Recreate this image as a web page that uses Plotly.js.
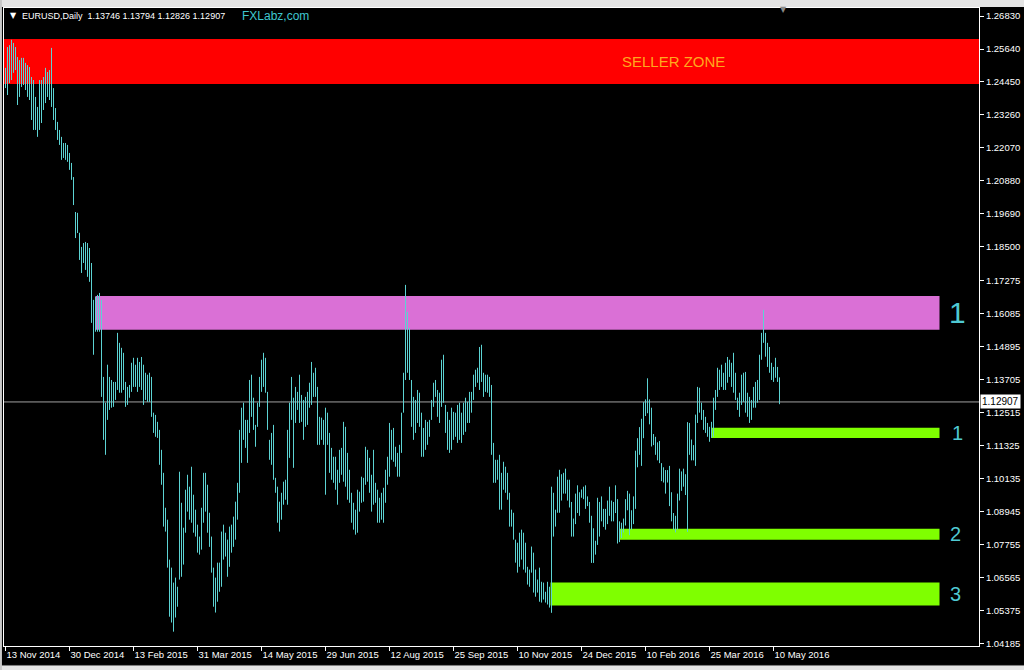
<!DOCTYPE html>
<html>
<head>
<meta charset="utf-8">
<script src="https://cdn.plot.ly/plotly-3.0.1.min.js"></script>
<style>html,body{margin:0;padding:0;background:#000;}#chart{width:1024px;height:670px;}</style>
</head>
<body>
<div id="chart"></div>
<script>
// ---- data (EURUSD daily, one entry per bar) ----
const barHigh = [
1.2496,1.2571,1.2578,1.2597,1.2586,1.2571,1.2535,1.2524,1.2532,1.2532,
1.2514,1.2506,1.2499,1.2463,1.2452,1.2391,1.2355,1.2452,1.2452,1.2463,
1.2496,1.2481,1.2488,1.2568,1.2423,1.2351,1.2301,1.2272,1.2247,1.2225,
1.2225,1.2218,1.2189,1.2153,1.2102,1.1976,1.1973,1.1901,1.1850,1.1864,
1.1868,1.1864,1.1846,1.1792,1.1659,1.1670,1.1677,1.1684,1.1659,1.1381,
1.1288,1.1425,1.1381,1.1370,1.1363,1.1363,1.1540,1.1504,1.1486,1.1468,
1.1363,1.1345,1.1352,1.1432,1.1450,1.1425,1.1450,1.1435,1.1453,1.1425,
1.1396,1.1389,1.1396,1.1381,1.1252,1.1244,1.1219,1.1190,1.1118,1.1035,
1.0909,1.0866,1.0722,1.0693,1.0639,1.0657,1.0624,1.1039,1.0927,1.0837,
1.0974,1.1028,1.0985,1.1057,1.0956,1.0902,1.0848,1.0805,1.0909,1.1035,
1.1035,1.0992,1.0891,1.0805,1.0693,1.0657,1.0711,1.0711,1.0823,1.0848,
1.0819,1.0794,1.0841,1.0848,1.0877,1.0931,1.0999,1.1190,1.1270,1.1288,
1.1226,1.1226,1.1370,1.1389,1.1306,1.1208,1.1288,1.1381,1.1443,1.1468,
1.1450,1.1327,1.1154,1.1179,1.1208,1.1017,1.0985,1.0931,1.0963,1.1003,
1.1010,1.1190,1.1288,1.1381,1.1306,1.1345,1.1327,1.1389,1.1316,1.1298,
1.1309,1.1327,1.1360,1.1435,1.1396,1.1414,1.1345,1.1237,1.1234,1.1226,
1.1270,1.1252,1.1179,1.1125,1.1093,1.1093,1.1046,1.1118,1.1125,1.1219,
1.1201,1.1107,1.1046,1.0963,1.0927,1.0902,1.0974,1.0967,1.1021,1.1017,
1.1129,1.1118,1.1089,1.1028,1.1118,1.0999,1.0974,1.0945,1.0963,1.0981,
1.1046,1.1093,1.1215,1.1190,1.1197,1.1129,1.1107,1.1136,1.1252,1.1396,
1.1713,1.1616,1.1558,1.1370,1.1309,1.1298,1.1334,1.1324,1.1252,1.1197,
1.1226,1.1219,1.1226,1.1298,1.1360,1.1370,1.1334,1.1324,1.1443,1.1461,
1.1280,1.1255,1.1226,1.1270,1.1255,1.1252,1.1280,1.1288,1.1252,1.1288,
1.1306,1.1291,1.1327,1.1327,1.1389,1.1407,1.1414,1.1489,1.1497,1.1396,
1.1389,1.1389,1.1381,1.1352,1.1143,1.1082,1.1082,1.1100,1.1035,1.1075,
1.1057,1.1035,1.0963,1.0902,1.0891,1.0794,1.0783,1.0819,1.0830,1.0819,
1.0783,1.0696,1.0686,1.0769,1.0747,1.0686,1.0650,1.0693,1.0642,1.0639,
1.0606,1.0642,1.0624,1.0985,1.0963,1.0902,1.1021,1.1046,1.1030,1.1035,
1.1050,1.1010,1.1010,1.0930,1.0870,1.0960,1.0990,1.0965,1.0975,1.0985,
1.0990,1.0950,1.0930,1.0880,1.0835,1.0790,1.0945,1.0930,1.0950,1.0905,
1.0905,1.0935,1.0985,1.0935,1.0930,1.0990,1.0940,1.0860,1.0855,1.0870,
1.0940,1.0970,1.0960,1.0900,1.0950,1.1115,1.1160,1.1200,1.1230,1.1290,
1.1300,1.1376,1.1300,1.1270,1.1175,1.1165,1.1145,1.1150,1.1070,1.1055,
1.1045,1.1045,1.1060,1.0965,1.0890,1.0880,1.0960,1.1050,1.1040,1.1050,
1.1030,1.1218,1.1215,1.1155,1.1135,1.1245,1.1345,1.1342,1.1288,1.1262,
1.1237,1.1215,1.1201,1.1219,1.1306,1.1334,1.1414,1.1407,1.1425,1.1396,
1.1432,1.1453,1.1443,1.1432,1.1468,1.1396,1.1306,1.1324,1.1389,1.1396,
1.1399,1.1324,1.1309,1.1298,1.1345,1.1363,1.1370,1.1461,1.1540,1.1623,
1.1540,1.1504,1.1489,1.1432,1.1417,1.1450,1.1417,1.13794
];
const barLow = [
1.2423,1.2398,1.2441,1.2452,1.2478,1.2488,1.2362,1.2391,1.2427,1.2434,
1.2416,1.2391,1.2380,1.2308,1.2272,1.2272,1.2247,1.2272,1.2297,1.2344,
1.2369,1.2391,1.2380,1.2355,1.2308,1.2272,1.2236,1.2218,1.2164,1.2171,
1.2164,1.2157,1.2128,1.2092,1.2001,1.1882,1.1900,1.1803,1.1756,1.1792,
1.1767,1.1742,1.1724,1.1576,1.1461,1.1544,1.1544,1.1544,1.1309,1.1154,
1.1100,1.1226,1.1262,1.1270,1.1273,1.1298,1.1334,1.1324,1.1324,1.1334,
1.1273,1.1280,1.1306,1.1327,1.1345,1.1345,1.1327,1.1345,1.1334,1.1280,
1.1298,1.1291,1.1291,1.1237,1.1179,1.1165,1.1161,1.1064,1.0992,1.0841,
1.0823,1.0693,1.0516,1.0495,1.0462,1.0513,1.0552,1.0650,1.0660,1.0704,
1.0819,1.0895,1.0866,1.0855,1.0819,1.0805,1.0747,1.0740,1.0758,1.0855,
1.0895,1.0819,1.0768,1.0675,1.0552,1.0531,1.0570,1.0606,1.0624,1.0722,
1.0733,1.0660,1.0696,1.0747,1.0768,1.0794,1.0866,1.0963,1.1071,1.1154,
1.1125,1.1071,1.1179,1.1237,1.1190,1.1129,1.1201,1.1273,1.1327,1.1345,
1.1324,1.1190,1.1082,1.1064,1.1010,1.0963,1.0855,1.0823,1.0866,1.0920,
1.0938,1.0920,1.1089,1.1226,1.1053,1.1215,1.1262,1.1215,1.1219,1.1154,
1.1201,1.1208,1.1270,1.1280,1.1309,1.1309,1.1136,1.1136,1.1154,1.1136,
1.0956,1.1136,1.1035,1.1010,1.0999,1.0974,1.0920,1.0999,1.1028,1.1003,
1.0985,1.0938,1.0927,1.0855,1.0830,1.0812,1.0819,1.0895,1.0927,1.0931,
1.0992,1.1003,1.0963,1.0895,1.0920,1.0927,1.0855,1.0855,1.0866,1.0855,
1.0927,1.0992,1.1021,1.1082,1.1075,1.1057,1.1021,1.1021,1.1107,1.1252,
1.1370,1.1396,1.1370,1.1201,1.1154,1.1179,1.1215,1.1201,1.1093,1.1093,
1.1118,1.1136,1.1165,1.1226,1.1273,1.1309,1.1237,1.1215,1.1273,1.1288,
1.1179,1.1118,1.1107,1.1118,1.1154,1.1165,1.1143,1.1154,1.1143,1.1172,
1.1183,1.1215,1.1215,1.1252,1.1298,1.1345,1.1360,1.1334,1.1363,1.1309,
1.1327,1.1324,1.1309,1.1100,1.0999,1.0999,1.1010,1.0902,1.0902,1.0974,
1.0963,1.0938,1.0841,1.0841,1.0794,1.0711,1.0675,1.0696,1.0722,1.0686,
1.0675,1.0632,1.0624,1.0675,1.0603,1.0588,1.0603,1.0570,1.0567,1.0578,
1.0567,1.0560,1.0549,1.0530,1.0805,1.0841,1.0891,1.0891,1.0935,1.0960,
1.0960,1.0935,1.0910,1.0805,1.0805,1.0850,1.0890,1.0880,1.0945,1.0940,
1.0905,1.0915,1.0855,1.0710,1.0710,1.0740,1.0775,1.0805,1.0860,1.0840,
1.0830,1.0850,1.0880,1.0860,1.0860,1.0890,1.0780,1.0785,1.0800,1.0820,
1.0845,1.0900,1.0810,1.0830,1.0850,1.0905,1.1055,1.1100,1.1060,1.1160,
1.1240,1.1250,1.1210,1.1130,1.1135,1.1100,1.1080,1.1070,1.1005,1.1000,
1.0960,1.1000,1.0915,1.0860,1.0830,1.0820,1.0830,1.0935,1.0970,1.0985,
1.0955,1.0822,1.1100,1.1080,1.1080,1.1060,1.1215,1.1252,1.1226,1.1190,
1.1179,1.1165,1.1147,1.1161,1.1165,1.1262,1.1309,1.1334,1.1345,1.1334,
1.1334,1.1360,1.1381,1.1345,1.1324,1.1298,1.1262,1.1237,1.1280,1.1291,
1.1252,1.1237,1.1215,1.1226,1.1270,1.1270,1.1288,1.1298,1.1443,1.1504,
1.1454,1.1417,1.1396,1.1370,1.1363,1.1378,1.1363,1.12826
];
const symbol = "EURUSD,Daily";
const lastBarOHLC = ["1.13746", "1.13794", "1.12826", "1.12907"];
const lastClose = 1.12907;

const dateTickBars = [0, 32, 64, 96, 128, 160, 192, 224, 256, 288, 320, 352, 384];
const dateTickLabels = ["13 Nov 2014","30 Dec 2014","13 Feb 2015","31 Mar 2015","14 May 2015","29 Jun 2015",
  "12 Aug 2015","25 Sep 2015","10 Nov 2015","24 Dec 2015","10 Feb 2016","25 Mar 2016","10 May 2016"];
const priceTicks = [1.26830,1.25640,1.24450,1.23260,1.22070,1.20880,1.19690,1.18500,1.17275,1.16085,
  1.14895,1.13705,1.12515,1.11325,1.10135,1.08945,1.07755,1.06565,1.05375,1.04185];

// zones: [label, top price, bottom price, starting bar]
const zoneLabels = ["SELLER ZONE", "1", "1", "2", "3"];
const zoneTop    = [1.2600, 1.1673, 1.1198, 1.0833, 1.0639];
const zoneBottom = [1.2438, 1.1551, 1.1161, 1.0794, 1.0556];
const zoneStart  = [-1, 45, 353, 307, 272.5];
const zoneEnd    = [null, 467, 467, 467, 467];

// ---- build ----
const xs = [], ys = [];
barHigh.forEach((h, i) => { xs.push(i, i, null); ys.push(barLow[i], h, null); });

const X0 = -0.75, X1 = 486.75;
const Y0 = 1.04103, Y1 = 1.27119;
const zoneFill = ["#ff0000", "#da70d6", "#7fff00", "#7fff00", "#7fff00"];
const labelX = [334, 476, 476, 475, 475];
const labelSize = [15, 30, 20, 20, 20];
const labelColor = ["#ffa81e", "#4fc9d2", "#4fc9d2", "#4fc9d2", "#4fc9d2"];

const shapes = [];
zoneLabels.forEach((z, k) => {
  shapes.push({type: "rect", layer: "below", xref: "x", yref: "y",
    x0: zoneStart[k] < 0 ? X0 : zoneStart[k], x1: zoneEnd[k] === null ? X1 : zoneEnd[k],
    y0: zoneBottom[k], y1: zoneTop[k], fillcolor: zoneFill[k], line: {width: 0}});
});
shapes.push({type: "line", layer: "below", xref: "x", yref: "y", x0: X0, x1: X1,
  y0: lastClose, y1: lastClose, line: {color: "#a0a0a0", width: 1}});
// window frame strips
shapes.push({type: "rect", xref: "paper", yref: "paper", x0: -0.01, x1: 1.06, y0: 1.0016, y1: 1.02,
  fillcolor: "#e4e4e4", line: {width: 0}});
shapes.push({type: "rect", xref: "paper", yref: "paper", x0: -0.01, x1: 1.06, y0: -0.05, y1: -0.0305,
  fillcolor: "#e4e4e4", line: {width: 0}});
shapes.push({type: "line", xref: "paper", yref: "paper", x0: -0.01, x1: 1.06, y0: -0.0305, y1: -0.0305,
  line: {color: "#808080", width: 1}});
shapes.push({type: "rect", xref: "paper", yref: "paper", x0: -0.01, x1: -0.0021, y0: -0.05, y1: 1.02,
  fillcolor: "#c8c8c8", line: {width: 0}});

const annotations = [];
zoneLabels.forEach((z, k) => {
  annotations.push({xref: "x", yref: "y", x: labelX[k], y: (zoneTop[k] + zoneBottom[k]) / 2,
    text: z, showarrow: false, xanchor: "center", yanchor: "middle",
    font: {family: "Liberation Sans, Arial, sans-serif", size: labelSize[k], color: labelColor[k]}});
});
annotations.push({xref: "paper", yref: "paper", x: 0.0045, y: 0.9878, xanchor: "left", yanchor: "middle",
  text: "▼", showarrow: false, font: {family: "DejaVu Sans", size: 8, color: "#ffffff"}});
annotations.push({xref: "paper", yref: "paper", x: 0.0164, y: 0.9875, xanchor: "left", yanchor: "middle",
  text: symbol + "&nbsp;&nbsp;" + lastBarOHLC.join(" "), showarrow: false,
  font: {family: "Liberation Sans, Arial, sans-serif", size: 9, color: "#ffffff"}});
annotations.push({xref: "paper", yref: "paper", x: 0.2421, y: 0.9875, xanchor: "left", yanchor: "middle",
  text: "FXLabz,com", showarrow: false,
  font: {family: "Liberation Sans, Arial, sans-serif", size: 12, color: "#3fc6cf"}});
annotations.push({xref: "x", yref: "paper", x: 389, y: 0.9971, xanchor: "center", yanchor: "middle",
  text: "▼", showarrow: false, font: {family: "DejaVu Sans", size: 8, color: "#8a8a8a"}});
annotations.push({xref: "paper", yref: "y", x: 1, y: lastClose, xanchor: "left", yanchor: "middle", xshift: 1,
  text: lastClose.toFixed(5), showarrow: false, bgcolor: "#ffffff", borderpad: 1,
  font: {family: "Liberation Sans, Arial, sans-serif", size: 10, color: "#000000"}});

const trace = {type: "scatter", mode: "lines", x: xs, y: ys, connectgaps: false,
  line: {color: "#5cd3d3", width: 1}, hoverinfo: "skip"};

const layout = {
  width: 1024, height: 670,
  paper_bgcolor: "#000000", plot_bgcolor: "#000000",
  margin: {l: 4, r: 45, t: 8, b: 24},
  showlegend: false,
  xaxis: {range: [X0, X1], showgrid: false, zeroline: false,
    tickmode: "array", tickvals: dateTickBars, ticktext: dateTickLabels,
    ticks: "outside", ticklen: 4, tickcolor: "#ffffff", ticklabelposition: "outside right",
    tickfont: {family: "Liberation Sans, Arial, sans-serif", size: 9.5, color: "#ffffff"},
    showline: true, linecolor: "#ffffff", linewidth: 1, mirror: true, fixedrange: true},
  yaxis: {range: [Y0, Y1], side: "right", showgrid: false, zeroline: false,
    tickmode: "array", tickvals: priceTicks, ticktext: priceTicks.map(v => v.toFixed(5)),
    ticks: "outside", ticklen: 4, tickcolor: "#ffffff",
    tickfont: {family: "Liberation Sans, Arial, sans-serif", size: 9.5, color: "#ffffff"},
    showline: true, linecolor: "#ffffff", linewidth: 1, mirror: true, fixedrange: true},
  shapes: shapes, annotations: annotations
};

Plotly.newPlot("chart", [trace], layout, {displayModeBar: false, staticPlot: true});
</script>
</body>
</html>
